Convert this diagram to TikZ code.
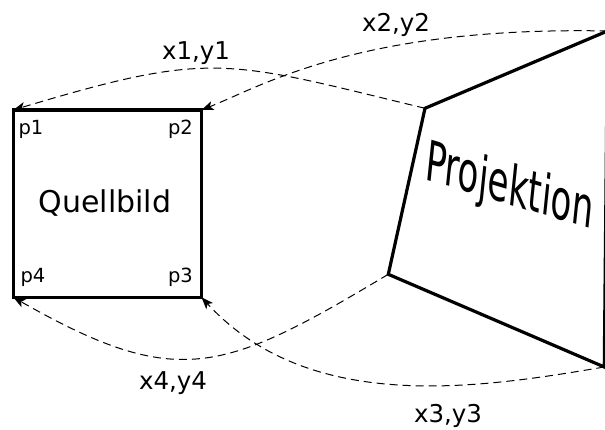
\documentclass[tikz,border=0pt]{standalone}
\usepackage{fontspec}
\setmainfont{DejaVu Sans}
\usetikzlibrary{arrows.meta}
\begin{document}
\begin{tikzpicture}[x=1pt,y=1pt,
  frame/.style={line width=3.2pt, line join=miter},
  proj/.style={dash pattern=on 8pt off 5pt, line width=1pt,
    -{Stealth[length=12pt,width=9pt,inset=3pt]}},
  lbl/.style={anchor=base, inner sep=0pt, font=\fontsize{24.5}{28}\selectfont},
  plbl/.style={anchor=base, inner sep=0pt, font=\fontsize{19.5}{22}\selectfont}]
\useasboundingbox (0,0) rectangle (605,-430);
% source square corners
\coordinate (p1) at (13.3,-110);
\coordinate (p2) at (201.5,-110);
\coordinate (p3) at (201.5,-297.3);
\coordinate (p4) at (13.3,-297.3);
% projected quadrilateral corners
\coordinate (q1) at (425,-108.3);
\coordinate (q2) at (607.5,-31);
\coordinate (q3) at (604.3,-367);
\coordinate (q4) at (388.3,-274.3);
\draw[frame] (p1) -- (p2) -- (p3) -- (p4) -- cycle;
\draw[frame] (q1) -- (q2) -- (q3) -- (q4) -- cycle;
% dashed connectors
\draw[proj] (q1) .. controls (225,-60) and (213,-50) .. (p1);
\draw[proj] (q2) .. controls (360,-26) and (262,-86) .. (p2);
\draw[proj] (q3) .. controls (480,-388) and (310,-415) .. (p3);
\draw[proj] (q4) .. controls (223,-373) and (178,-391) .. (p4);
% labels
\node[lbl] (l1) at (196,-60) {x1,y1};
\node[lbl] (l2) at (396,-32) {x2,y2};
\node[lbl] (l4) at (173,-389) {x4,y4};
\node[lbl] (l3) at (448,-422) {x3,y3};
\node[anchor=base, inner sep=0pt, font=\fontsize{30}{34}\selectfont] (src) at (105,-213) {Quellbild};
\node[plbl] (t1) at (31,-135) {p1};
\node[plbl] (t2) at (180.5,-135) {p2};
\node[plbl] (t3) at (180.5,-283) {p3};
\node[plbl] (t4) at (33,-283) {p4};
\begin{scope}[shift={(424,-179)}, yslant=-0.30, xslant=0.1, xscale=0.59]
  \node[transform shape, anchor=base west, inner sep=0pt,
    font=\fontsize{57}{57}\selectfont] (projtext) at (0,0) {Projektion};
\end{scope}
\end{tikzpicture}
\end{document}
